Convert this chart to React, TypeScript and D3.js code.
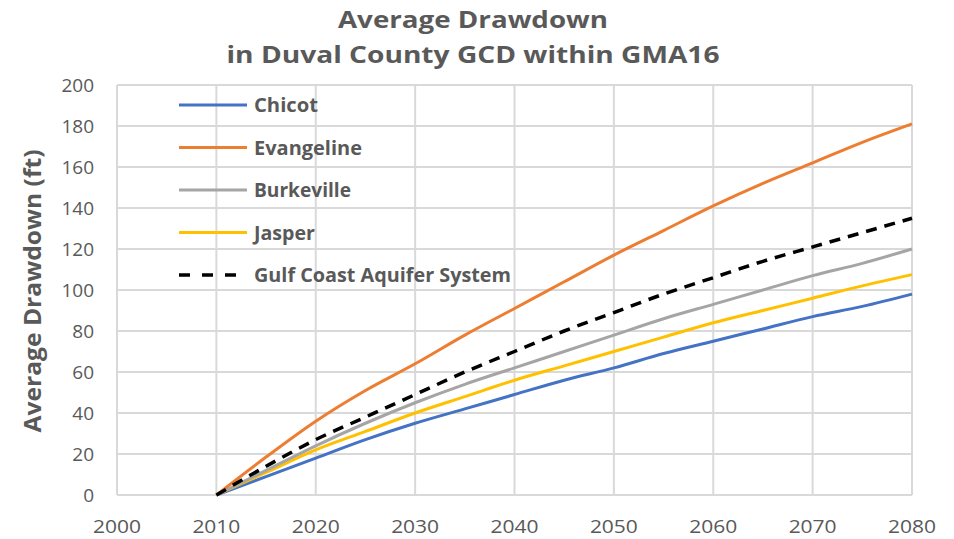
import React from "react";
import * as d3 from "d3";

const years = [2010, 2015, 2020, 2025, 2030, 2035, 2040, 2045, 2050, 2055, 2060, 2065, 2070, 2075, 2080];
const chicot = [0, 9, 18, 27, 35, 42, 49, 56, 62, 69, 75, 81, 87, 92, 98];
const evangeline = [0, 18.5, 36, 51, 64, 78, 91, 104, 117, 129, 141, 152, 162, 172, 181];
const burkeville = [0, 12, 24, 35, 45, 54, 62, 70, 78, 86, 93, 100, 107, 113, 120];
const jasper = [0, 11, 22, 31, 40, 48, 56, 63, 70, 77, 84, 90, 96, 102, 107.5];
const gulfCoast = [0, 14, 27, 38, 49, 60, 70, 80, 89, 98, 106, 114, 121, 128, 135];

const seriesNames = ["Chicot", "Evangeline", "Burkeville", "Jasper", "Gulf Coast Aquifer System"];
const seriesValues = [chicot, evangeline, burkeville, jasper, gulfCoast];
const seriesColors = ["#4472C4", "#ED7D31", "#A5A5A5", "#FFC000", "#000000"];
const legendWidths = [64, 108, 97, 61, 257];
const xTicks = [2000, 2010, 2020, 2030, 2040, 2050, 2060, 2070, 2080];
const yTicks = [0, 20, 40, 60, 80, 100, 120, 140, 160, 180, 200];

const W = 954, H = 539;
const left = 117, right = 912, top = 85, bottom = 495;
const FONT = "'Open Sans', sans-serif";

export default function App() {
  const x = d3.scaleLinear().domain([2000, 2080]).range([left, right]);
  const y = d3.scaleLinear().domain([0, 200]).range([bottom, top]);
  const line = d3.line<[number, number]>().x(d => x(d[0])).y(d => y(d[1])).curve(d3.curveMonotoneX);
  const drawOrder = [0, 3, 2, 1, 4];
  return (
    <svg width={W} height={H} style={{ position: "absolute", left: 0, top: 0, background: "#fff" }}>
      <rect width={W} height={H} fill="#fff" />
      <text x={473} y={28} textAnchor="middle" fontFamily={FONT} fontWeight="bold" fontSize={24} fill="#595959" textLength={270} lengthAdjust="spacingAndGlyphs">Average Drawdown</text>
      <text x={473} y={63} textAnchor="middle" fontFamily={FONT} fontWeight="bold" fontSize={24} fill="#595959" textLength={493} lengthAdjust="spacingAndGlyphs">in Duval County GCD within GMA16</text>
      {yTicks.map(t => (
        <line key={"gy" + t} x1={left} x2={right} y1={y(t)} y2={y(t)} stroke="#D9D9D9" strokeWidth={2} />
      ))}
      {xTicks.map(t => (
        <line key={"gx" + t} x1={x(t)} x2={x(t)} y1={top} y2={bottom} stroke="#D9D9D9" strokeWidth={2} />
      ))}
      {yTicks.map(t => (
        <text key={"ty" + t} x={94} y={y(t) + 7} textAnchor="end" fontFamily={FONT} fontSize={19} fill="#595959">{t}</text>
      ))}
      {xTicks.map(t => (
        <text key={"tx" + t} x={x(t)} y={533} textAnchor="middle" fontFamily={FONT} fontSize={19} fill="#595959" textLength={48} lengthAdjust="spacingAndGlyphs">{t}</text>
      ))}
      <text transform={`translate(41,291) rotate(-90)`} textAnchor="middle" fontFamily={FONT} fontWeight="bold" fontSize={23} fill="#595959" textLength={283} lengthAdjust="spacingAndGlyphs">Average Drawdown (ft)</text>
      {drawOrder.map(i => (
        <path key={"s" + i} d={line(years.map((yr, j) => [yr, seriesValues[i][j]] as [number, number])) || ""}
          fill="none" stroke={seriesColors[i]} strokeWidth={i === 4 ? 3.5 : 3}
          strokeDasharray={i === 4 ? "11,8" : undefined} />
      ))}
      {seriesNames.map((n, i) => {
        const ly = 105 + i * 42.5;
        return (
          <g key={"l" + i}>
            <line x1={179} x2={247} y1={ly} y2={ly} stroke={seriesColors[i]} strokeWidth={i === 4 ? 3.5 : 3}
              strokeDasharray={i === 4 ? "11,12" : undefined} />
            <text x={254} y={ly + 7} fontFamily={FONT} fontWeight="bold" fontSize={19} fill="#595959" textLength={legendWidths[i]} lengthAdjust="spacingAndGlyphs">{n}</text>
          </g>
        );
      })}
    </svg>
  );
}
